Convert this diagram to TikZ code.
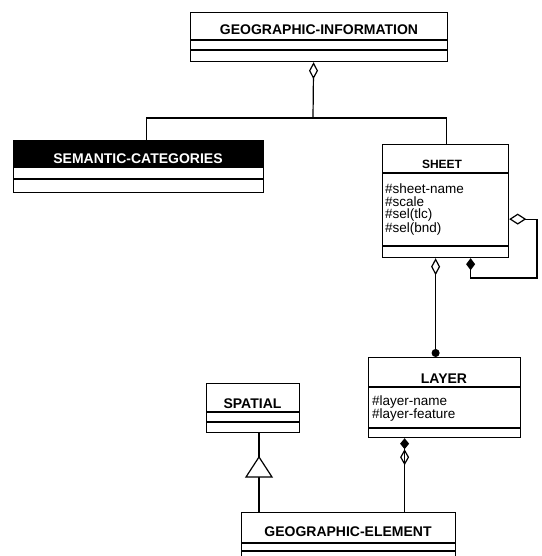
\documentclass[tikz,border=0pt]{standalone}
\usepackage{fontspec}
\setmainfont{Liberation Sans}
\usetikzlibrary{arrows.meta}
\begin{document}
\begin{tikzpicture}[x=1pt,y=-1pt,
  box/.style={draw, line width=1.2pt, inner sep=0pt, anchor=north west},
  cname/.style={font=\bfseries\fontsize{14}{14}\selectfont, anchor=base, inner sep=0pt},
  attr/.style={font=\fontsize{13.5}{12.5}\selectfont, anchor=north west, inner sep=0pt, align=left},
  sepline/.style={line width=1.2pt},
  conn/.style={line width=1.2pt},
]
\useasboundingbox (0,0) rectangle (541,556);

% GEOGRAPHIC-INFORMATION
\node[box, minimum width=257pt, minimum height=49pt] (geo) at (190,12) {};
\draw[sepline] (190,40) -- (447,40) (190,50) -- (447,50);
\node[cname] (geon) at (319,35) {GEOGRAPHIC-INFORMATION};

% left class (black header)
\node[box, minimum width=250pt, minimum height=52pt] (sem) at (13,140) {};
\fill (13,140) rectangle (263,168);
\draw[sepline] (13,179) -- (263,179);
\node[cname, text=white] (semn) at (138,164) {SEMANTIC-CATEGORIES};

% SHEET
\node[box, minimum width=126pt, minimum height=113pt] (sheet) at (382,144) {};
\draw[sepline] (382,173) -- (508,173) (382,246) -- (508,246);
\node[cname, font=\bfseries\fontsize{12}{12}\selectfont] (sheetn) at (442,168) {SHEET};
\node[attr] (sattr) at (385,184) {\#sheet-name\\\#scale\\\#sel(tlc)\\\#sel(bnd)};

% LAYER
\node[box, minimum width=152pt, minimum height=80pt] (layer) at (368,357) {};
\draw[sepline] (368,387) -- (520,387) (368,428) -- (520,428);
\node[cname] (layern) at (444,383) {LAYER};
\node[attr, font=\fontsize{13.5}{13}\selectfont] (lattr) at (372,396) {\#layer-name\\\#layer-feature};

% SPATIAL
\node[box, minimum width=93pt, minimum height=49pt] (spatial) at (206,383) {};
\draw[sepline] (206,412) -- (299,412) (206,422) -- (299,422);
\node[cname] (spatialn) at (252.5,408) {SPATIAL};

% GEOGRAPHIC-ELEMENT
\node[box, minimum width=214pt, minimum height=52pt] (ge) at (241,512) {};
\draw[sepline] (241,543) -- (455,543) (241,551) -- (455,551);
\node[cname] (gen) at (348,536) {GEOGRAPHIC-ELEMENT};

% aggregation tree
\coordinate (bus) at (313,118);
\draw[conn, {Diamond[open,length=17pt,width=9pt]}-] ([xshift=-5.5pt]geo.south) -- (bus);
\draw[conn] ([xshift=8pt]sem.north) |- (bus) -| ([xshift=1pt]sheet.north);

% SHEET self association
\draw[conn, {Diamond[open,length=17pt,width=11pt]}-{Diamond[length=12pt,width=9pt]}]
  ([yshift=-18pt]sheet.east) -| (537,278) -| ([xshift=25pt]sheet.south);

% SHEET - LAYER
\draw[conn, {Diamond[open,length=17pt,width=9pt]}-{Circle[length=8pt]}]
  ([xshift=-10pt]sheet.south) -- ([xshift=-9pt]layer.north);

% LAYER - GEOGRAPHIC-ELEMENT
\draw[conn, {Diamond[length=11pt,width=9pt] Diamond[open,length=16pt,width=9pt]}-]
  ([xshift=-40pt]layer.south) -- ([xshift=56pt]ge.north);

% generalization
\coordinate (triapex) at (259,457);
\draw[conn] ([xshift=18pt]ge.north west) -- (259,477);
\draw[conn, fill=white, line join=miter] (246,477) -- (triapex) -- (272,477) -- cycle;
\draw[conn] (triapex) -- (triapex |- spatial.south);
\end{tikzpicture}
\end{document}
